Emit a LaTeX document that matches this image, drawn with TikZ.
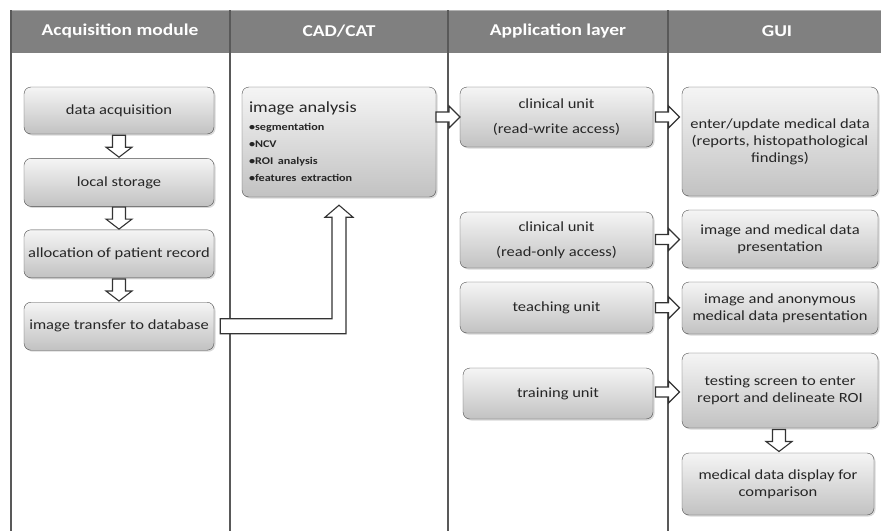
\documentclass[tikz,border=0pt]{standalone}
\usepackage{fontspec}
\setmainfont{Carlito}[FakeStretch=1.18]
\usetikzlibrary{positioning,calc,shadows}

\newcommand{\downarr}[1]{\draw[fatarrow,shift={#1}] (-6.5,-11) -- (6.5,-11) -- (6.5,1) -- (13,1) -- (0,11) -- (-13,1) -- (-6.5,1) -- cycle;}
\newcommand{\rightarr}[1]{\draw[fatarrow,shift={#1}] (-12,-5) -- (1,-5) -- (1,-11) -- (12,0) -- (1,11) -- (1,5) -- (-12,5) -- cycle;}

\begin{document}
\begin{tikzpicture}[x=1pt,y=-1pt,
  box/.style={draw=black!70, rounded corners=7pt, top color=black!4, bottom color=black!24,
    drop shadow={opacity=0.3,shadow xshift=1.5pt,shadow yshift=-1.5pt},
    text=black!85, align=center, font=\fontsize{14}{17}\selectfont, inner sep=2pt},
  head/.style={text=white, font=\fontsize{16.5}{19}\selectfont\bfseries},
  colline/.style={draw=black!65, line width=1.1pt},
  fatarrow/.style={draw=black!80, line width=1.1pt, fill=white, line join=miter}]

\useasboundingbox (0,0) rectangle (881,531);

\fill[black!50] (10,10) rectangle (881,53);
\draw[black!30] (10,10) -- (881,10);
\foreach \cx in {11,230,448,668}
  \draw[colline] (\cx,10) -- (\cx,531);

\node[head] (hacq) at (120,31) {Acquisition module};
\node[head] (hcad) at (339,31) {CAD/CAT};
\node[head] (happ) at (558,31) {Application layer};
\node[head] (hgui) at (777,31) {GUI};

% acquisition module
\node[box, minimum width=190pt, minimum height=47pt] (acq) at (119,110.5) {data acquisition};
\node[box, minimum width=190pt, minimum height=48pt, below=24pt of acq] (store) {local storage};
\node[box, minimum width=190pt, minimum height=48pt, below=23pt of store] (alloc) {allocation of patient record};
\node[box, minimum width=190pt, minimum height=48pt, below=24pt of alloc] (xfer) {image transfer to database};

% CAD/CAT
\node[box, text width=180pt, minimum height=110pt, inner sep=7pt, align=left] (ia) at (339,142)
  {{\fontsize{15.5}{18}\selectfont image analysis}\\[1pt]
   {\fontsize{10.3}{15}\selectfont\bfseries •segmentation}\\
   {\fontsize{10.3}{15}\selectfont\bfseries •NCV}\\
   {\fontsize{10.3}{15}\selectfont\bfseries •ROI~analysis}\\
   {\fontsize{10.3}{15}\selectfont\bfseries •features~extraction}\\[4pt]};

% application layer
\node[box, minimum width=193pt, minimum height=60pt] (crw) at (556.5,117) {clinical unit\\[8pt](read-write access)};
\node[box, minimum width=193pt, minimum height=56pt] (cro) at (556.5,240) {clinical unit\\[8pt](read-only access)};
\node[box, minimum width=193pt, minimum height=51pt] (teach) at (556.5,307.5) {teaching unit};
\node[box, minimum width=190pt, minimum height=51pt] (train) at (558,393.5) {training unit};

% GUI
\node[box, minimum width=196pt, minimum height=109pt] (upd) at (780,141.5) {enter/update medical data\\(reports, histopathological\\findings)};
\node[box, minimum width=196pt, minimum height=58pt] (pres) at (780,239) {image and medical data\\presentation};
\node[box, minimum width=196pt, minimum height=52pt] (anon) at (780,308) {image and anonymous\\medical data presentation};
\node[box, minimum width=196pt, minimum height=75pt] (test) at (780,390.5) {testing screen to enter\\report and delineate ROI};
\node[box, minimum width=192pt, minimum height=62pt] (comp) at (778,484) {medical data display for\\comparison};

\downarr{($(acq.south)!0.5!(store.north)$)}
\downarr{($(store.south)!0.5!(alloc.north)$)}
\downarr{($(alloc.south)!0.5!(xfer.north)$)}
\downarr{($(test.south)!0.5!(comp.north)$)}

\rightarr{($(ia.east |- crw.west)!0.5!(crw.west)$)}
\rightarr{($(crw.east)!0.5!(crw.east -| upd.west)$)}
\rightarr{($(cro.east)!0.5!(pres.west)$)}
\rightarr{($(teach.east)!0.5!(anon.west)$)}
\rightarr{($(train.east)!0.5!(test.west)$)}

\draw[fatarrow] ($(xfer.east)+(6,-7.5)$) -- ($(ia.south |- xfer.east)+(-7,-7.5)$)
  -- ($(ia.south)+(-7,20)$) -- ($(ia.south)+(-14,20)$) -- ($(ia.south)+(0,8)$)
  -- ($(ia.south)+(14,20)$) -- ($(ia.south)+(7,20)$)
  -- ($(ia.south |- xfer.east)+(7,7.5)$) -- ($(xfer.east)+(6,7.5)$) -- cycle;

\end{tikzpicture}
\end{document}
